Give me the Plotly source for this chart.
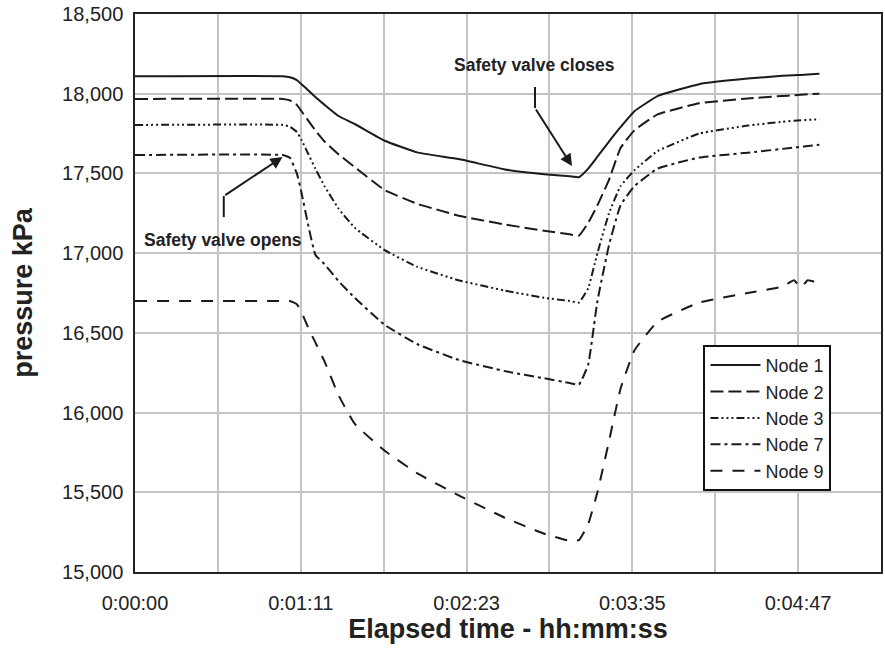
import plotly.graph_objects as go

# elapsed time in seconds
time_s = [0, 64, 67, 70, 72, 75, 78, 82, 88, 95, 108, 122, 140, 160, 177, 188, 192,
          196, 200, 205, 210, 216, 226, 244, 265, 280, 285, 288, 291, 296]

node1 = [18110, 18110, 18103, 18085, 18060, 18020, 17980, 17930, 17860, 17810, 17705,
         17632, 17590, 17525, 17495, 17482, 17476, 17530, 17605, 17700, 17790, 17890,
         17985, 18060, 18095, 18112, 18116, 18118, 18121, 18125]
node2 = [17967, 17967, 17958, 17930, 17890, 17830, 17770, 17700, 17620, 17540, 17396,
         17310, 17235, 17180, 17140, 17118, 17110, 17190, 17300, 17460, 17660, 17770,
         17870, 17940, 17970, 17986, 17990, 17993, 17996, 18000]
node3 = [17804, 17804, 17793, 17760, 17710, 17620, 17530, 17420, 17280, 17160, 17019,
         16915, 16830, 16765, 16720, 16700, 16690, 16780, 17000, 17250, 17420, 17520,
         17640, 17750, 17800, 17824, 17830, 17833, 17836, 17840]
node7 = [17615, 17615, 17598, 17500, 17380, 17170, 16990, 16930, 16825, 16720, 16550,
         16430, 16330, 16260, 16215, 16185, 16175, 16300, 16700, 17050, 17300, 17420,
         17530, 17600, 17630, 17654, 17662, 17667, 17672, 17680]
node9 = [16700, 16700, 16700, 16680, 16630, 16530, 16440, 16320, 16110, 15930, 15760,
         15620, 15480, 15340, 15240, 15195, 15200, 15300, 15500, 15820, 16150, 16390,
         16570, 16690, 16750, 16790, 16830, 16785, 16830, 16810]

series_names = ["Node 1", "Node 2", "Node 3", "Node 7", "Node 9"]
series_values = [node1, node2, node3, node7, node9]
dashes = ["solid", "13px,5px", "8px,3px,2px,3px,2px,3px,2px,3px", "10px,4px,3px,4px", "12px,10px"]

step = 71.7  # Excel tick step (0:01:11.7)
xtick_vals = [0, step, 2 * step, 3 * step, 4 * step]
xtick_text = ["0:00:00", "0:01:11", "0:02:23", "0:03:35", "0:04:47"]
ytick_vals = [15000, 15500, 16000, 16500, 17000, 17500, 18000, 18500]
ytick_text = ["15,000", "15,500", "16,000", "16,500", "17,000", "17,500", "18,000", "18,500"]

FONT = "Arial, Liberation Sans, sans-serif"
LINE = "#1a1a1a"

fig = go.Figure()
for name, vals, d in zip(series_names, series_values, dashes):
    fig.add_trace(go.Scatter(
        x=time_s, y=vals, name=name, mode="lines",
        line=dict(color=LINE, width=2, dash=d, shape="spline", smoothing=0.35),
    ))

# annotation callouts
fig.add_shape(type="line", xref="x", yref="y", x0=173.0, y0=18042, x1=173.0, y1=17910,
              line=dict(color=LINE, width=2))
fig.add_annotation(x=189.0, y=17546, ax=173.0, ay=17910, xref="x", yref="y",
                   axref="x", ayref="y", text="", showarrow=True,
                   arrowhead=2, arrowsize=1.2, arrowwidth=2, arrowcolor=LINE)
fig.add_annotation(x=172.6, y=18180, xref="x", yref="y", text="<b>Safety valve closes</b>",
                   showarrow=False, font=dict(family=FONT, size=17.5, color="#222"))

fig.add_shape(type="line", xref="x", yref="y", x0=38.4, y0=17226, x1=38.4, y1=17358,
              line=dict(color=LINE, width=2))
fig.add_annotation(x=63.8, y=17603, ax=38.4, ay=17358, xref="x", yref="y",
                   axref="x", ayref="y", text="", showarrow=True,
                   arrowhead=2, arrowsize=1.2, arrowwidth=2, arrowcolor=LINE)
fig.add_annotation(x=38.0, y=17082, xref="x", yref="y", text="<b>Safety valve opens</b>",
                   showarrow=False, font=dict(family=FONT, size=17.5, color="#222"))

fig.update_layout(
    width=885, height=651,
    margin=dict(l=135, r=2, t=14, b=79),
    paper_bgcolor="white", plot_bgcolor="white",
    font=dict(family=FONT, color="#222"),
    showlegend=True,
    legend=dict(
        x=0.762, y=0.407, xanchor="left", yanchor="top",
        bgcolor="white", bordercolor="#111", borderwidth=2,
        font=dict(family=FONT, size=18, color="#222"),
        itemwidth=50, tracegroupgap=0,
    ),
)
fig.update_xaxes(
    range=[0, 4.5 * step], tickmode="array", tickvals=xtick_vals, ticktext=xtick_text,
    showgrid=True, gridcolor="#c4c4c4", gridwidth=1.5,
    minor=dict(tickmode="linear", tick0=0, dtick=step / 2, showgrid=True,
               gridcolor="#c4c4c4", gridwidth=1.5),
    showline=True, linecolor="#222", linewidth=1.5, mirror=True,
    ticks="", zeroline=False, ticklabelstandoff=12,
    tickfont=dict(family=FONT, size=20, color="#222"),
    title=dict(text="Elapsed time - hh:mm:ss", standoff=3,
               font=dict(family=FONT, size=27, color="#222", weight="bold")),
)
fig.update_yaxes(
    range=[15000, 18500], tickmode="array", tickvals=ytick_vals, ticktext=ytick_text,
    showgrid=True, gridcolor="#c4c4c4", gridwidth=1.5,
    showline=True, linecolor="#222", linewidth=1.5, mirror=True,
    ticks="", zeroline=False, ticklabelstandoff=6,
    tickfont=dict(family=FONT, size=20, color="#222"),
    title=dict(text="pressure kPa", standoff=22,
               font=dict(family=FONT, size=27, color="#222", weight="bold")),
)

fig.write_html("out.html")
